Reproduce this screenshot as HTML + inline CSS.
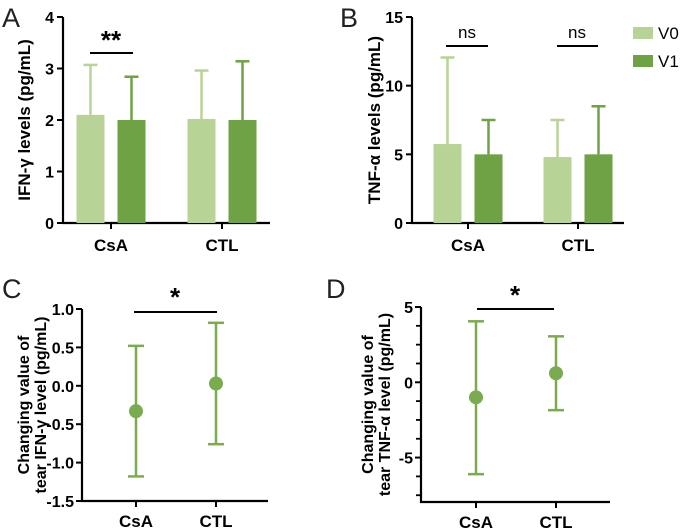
<!DOCTYPE html>
<html><head><meta charset="utf-8"><style>
body{margin:0;background:#fff}
svg{display:block;font-family:"Liberation Sans",Arial,sans-serif}
</style></head><body>
<svg id="fig" width="685" height="528" viewBox="0 0 685 528"></svg>
<script>
const groups=["CsA","CTL"];
const aV0=[2.1,2.02], aV0Err=[3.07,2.96], aV1=[2.0,2.0], aV1Err=[2.84,3.14];
const aTicks=[0,1,2,3,4];
const bV0=[5.75,4.8], bV0Err=[12.05,7.5], bV1=[5.0,5.0], bV1Err=[7.5,8.5];
const bTicks=[0,5,10,15];
const cMean=[-0.33,0.03], cHigh=[0.52,0.82], cLow=[-1.18,-0.76];
const cTicks=[1.0,0.5,0.0,-0.5,-1.0,-1.5];
const cTickLabels=["1.0","0.5","0.0","-0.5","-1.0","-1.5"];
const dMean=[-1.0,0.6], dHigh=[4.05,3.05], dLow=[-6.1,-1.85];
const dTicks=[5,0,-5];
const dMinor=[3.75,2.5,1.25,-1.25,-2.5,-3.75,-6.25,-7.5];
const L="#b8d396", D="#6ea244", P="#7aab4f";
const svg=document.getElementById('fig');
function el(t,a,txt){const e=document.createElementNS('http://www.w3.org/2000/svg',t);for(const k in a)e.setAttribute(k,a[k]);if(txt!==undefined)e.textContent=txt;svg.appendChild(e);return e;}
function lab(x,y,s,size,anchor,name,rot,normal){const a={x:x,y:y,'font-size':size,'font-weight':normal?'normal':'bold','text-anchor':anchor||'middle',fill:'#000'};if(rot)a.transform=`rotate(-90 ${x} ${y})`;const t=el('text',a,s);return t;}
function ln(x1,y1,x2,y2,c,w,name){const l=el('line',{x1,y1,x2,y2,stroke:c,'stroke-width':w});return l;}
function panelLetter(x,y,s){const t=el('text',{x,y,'font-size':27,fill:'#222'},s);}

function barPanel(o){
  const ys=v=>o.y0-(v-o.min)/(o.max-o.min)*(o.y0-o.y1);
  ln(o.ax,o.y1,o.ax,o.y0+1,'#000',2.2,'y-axis');
  ln(o.ax-1,o.y0,o.xEnd,o.y0,'#000',2.2,'x-axis');
  o.ticks.forEach(t=>{ln(o.ax-6,ys(t),o.ax,ys(t),'#000',2,'y-tick');lab(o.ax-9,ys(t)+6,String(t),16,'end','y-tick-label');});
  groups.forEach((g,i)=>{
    const cx=o.gx[i];
    ln(cx,o.y0,cx,o.y0+6,'#000',2,'x-tick');
    lab(cx,o.y0+28,g,17,'middle','x-label-'+g.toLowerCase());
    [[o.v0,o.e0,L,-1],[o.v1,o.e1,D,1]].forEach(([v,e,c,s],k)=>{
      const bx=cx+s*(o.gap/2)+(s<0?-o.bw:0), mx=bx+o.bw/2;
      ln(mx,ys(v[i]),mx,ys(e[i]),c,2.5,'error-bar');
      ln(mx-7,ys(e[i]),mx+7,ys(e[i]),c,2.5,'error-cap');
      const r=el('rect',{x:bx,y:ys(v[i]),width:o.bw,height:o.y0-ys(v[i]),fill:c});
      
    });
  });
  lab(o.tx,(o.y0+o.y1)/2,o.title,17,'middle','y-axis-title',true);
}
barPanel({ax:63,y0:223,y1:17,xEnd:270,min:0,max:4,ticks:aTicks,gx:[111,222],bw:28,gap:13,v0:aV0,e0:aV0Err,v1:aV1,e1:aV1Err,title:"IFN-γ levels (pg/mL)",tx:30});
barPanel({ax:412,y0:223,y1:17,xEnd:624,min:0,max:15,ticks:bTicks,gx:[468,578],bw:28,gap:13,v0:bV0,e0:bV0Err,v1:bV1,e1:bV1Err,title:"TNF-α levels (pg/mL)",tx:380});
panelLetter(2,27,"A");panelLetter(340,27,"B");
ln(90,53,133,53,'#000',2,'significance-line');lab(111,49,"**",26,'middle','significance-label');
ln(446,46,488,46,'#000',2,'significance-line');lab(467,38,"ns",17,'middle','significance-label',false,true);
ln(557,46,598,46,'#000',2,'significance-line');lab(577,38,"ns",17,'middle','significance-label',false,true);
[[L,"V0",27],[D,"V1",55]].forEach(([c,s,y])=>{const r=el('rect',{x:633,y:y,width:20,height:12,fill:c});const t=el('text',{x:658,y:y+12,'font-size':17,fill:'#000'},s);});

function pointPanel(o){
  const Y=v=>o.yTop+(o.max-v)/(o.max-o.min)*(o.yBot-o.yTop);
  ln(o.ax,o.yTop,o.ax,o.yBot+1,'#000',2.2,'y-axis');
  ln(o.ax-1,o.yBot,o.xEnd,o.yBot,'#000',2.2,'x-axis');
  o.ticks.forEach((t,i)=>{ln(o.ax-6,Y(t),o.ax,Y(t),'#000',2,'y-tick');lab(o.ax-8,Y(t)+6,o.labels[i],16,'end','y-tick-label');});
  (o.minor||[]).forEach(t=>ln(o.ax-5,Y(t),o.ax,Y(t),'#000',1.8,'y-minor-tick'));
  groups.forEach((g,i)=>{
    const cx=o.gx[i];
    ln(cx,o.yBot,cx,o.yBot+6,'#000',2,'x-tick');
    lab(cx,o.yBot+26,g,17,'middle','x-label-'+g.toLowerCase());
    ln(cx,Y(o.hi[i]),cx,Y(o.lo[i]),P,2.5,'error-bar');
    ln(cx-8,Y(o.hi[i]),cx+8,Y(o.hi[i]),P,2.5,'error-cap-high');
    ln(cx-8,Y(o.lo[i]),cx+8,Y(o.lo[i]),P,2.5,'error-cap-low');
    const c=el('circle',{cx:cx,cy:Y(o.m[i]),r:7,fill:P});
  });
  lab(o.tx,(o.yTop+o.yBot)/2,"Changing value of",16,'middle','y-axis-title-line1',true);
  lab(o.tx+17,(o.yTop+o.yBot)/2,o.title,16,'middle','y-axis-title-line2',true);
}
pointPanel({ax:82,yTop:309,yBot:501,max:1.0,min:-1.5,xEnd:268,ticks:cTicks,labels:cTickLabels,gx:[136,216],m:cMean,hi:cHigh,lo:cLow,tx:29,title:"tear IFN-γ level (pg/mL)"});
pointPanel({ax:421,yTop:307,yBot:502,max:5,min:-7.95,xEnd:610,ticks:dTicks,labels:dTicks.map(String),minor:dMinor,gx:[476,556],m:dMean,hi:dHigh,lo:dLow,tx:373,title:"tear TNF-α level (pg/mL)"});
panelLetter(2,298,"C");panelLetter(326,298,"D");
ln(134,312,217,312,'#000',2,'significance-line');lab(175,306,"*",26,'middle','significance-label');
ln(477,309,554,309,'#000',2,'significance-line');lab(515,304,"*",26,'middle','significance-label');
</script>
</body></html>
